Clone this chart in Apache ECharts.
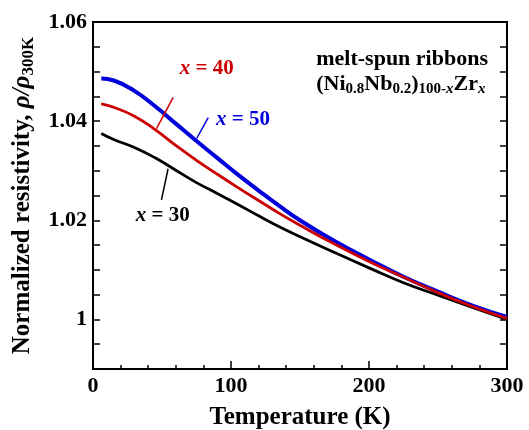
<!DOCTYPE html>
<html>
<head>
<meta charset="utf-8">
<script src="https://cdn.jsdelivr.net/npm/echarts@6/dist/echarts.min.js"></script>
<style>
  html, body { margin: 0; padding: 0; background: #fff; }
  #main { width: 529px; height: 430px; }
</style>
</head>
<body>
<div id="main"></div>
<script>
// temperature (K) shared by all three curves
const temps = [6, 15, 30, 45, 60, 75, 90, 105, 120, 135, 150, 175, 200, 225, 250, 275, 300];
// normalized resistivity rho/rho300K
const rhoX30 = [1.0375, 1.0363, 1.0347, 1.0326, 1.0301, 1.0276, 1.0254, 1.0232, 1.0209, 1.0187, 1.0167, 1.0135, 1.0104, 1.0074, 1.0049, 1.0024, 1.0000];
const rhoX40 = [1.0435, 1.0428, 1.0410, 1.0383, 1.0351, 1.0321, 1.0293, 1.0266, 1.0240, 1.0214, 1.0190, 1.0152, 1.0117, 1.0085, 1.0054, 1.0026, 1.0002];
const rhoX50 = [1.0486, 1.0482, 1.0461, 1.0430, 1.0395, 1.0360, 1.0326, 1.0292, 1.0260, 1.0229, 1.0200, 1.0158, 1.0121, 1.0086, 1.0056, 1.0028, 1.0005];

// labels and their leader lines, in data coords [T, rho]
const labelX30 = [50.6, 1.0210];
const labelX40 = [82.5, 1.0507];
const labelX50 = [108.7, 1.0404];
const leaderX30 = [[54.4, 1.0304], [49.6, 1.0241]];
const leaderX40 = [[58.1, 1.0448], [46.0, 1.0385]];
const leaderX50 = [[83.5, 1.0407], [75.1, 1.0365]];

const xTickLabels = [0, 100, 200, 300];
const yTickLabels = [1, 1.02, 1.04, 1.06];

const serif = 'Liberation Serif';

function pairs(xs, ys) {
    return xs.map((x, i) => [x, ys[i]]);
}

function curve(name, values, color, width, label, leader) {
    return {
        name: name,
        type: 'line',
        data: pairs(temps, values),
        showSymbol: false,
        smooth: 0.5,
        lineStyle: { color: color, width: width },
        z: width > 3 ? 3 : 4,
        markLine: {
            silent: true,
            symbol: 'none',
            label: { show: false },
            lineStyle: { color: color, width: 1.5, type: 'solid' },
            data: [[{ coord: leader[0] }, { coord: leader[1] }]]
        },
        markPoint: {
            silent: true,
            symbolSize: 0,
            data: [{ coord: label }],
            label: {
                show: true,
                position: 'inside',
                formatter: '{i|x} = ' + name,
                color: color,
                fontFamily: serif,
                fontWeight: 'bold',
                fontSize: 21,
                rich: {
                    i: { fontFamily: serif, fontStyle: 'italic', fontWeight: 'bold', fontSize: 21, color: color }
                }
            }
        }
    };
}

const chart = echarts.init(document.getElementById('main'));

const option = {
    backgroundColor: '#fff',
    animation: false,
    title: {
        right: 36,
        top: 42,
        text: 'melt-spun ribbons\n(Ni{s|0.8}Nb{s|0.2}){s|100-}{si|x}Zr{si|x}',
        textStyle: {
            fontFamily: serif,
            fontWeight: 'bold',
            fontSize: 22,
            color: '#000',
            lineHeight: 25,
            rich: {
                s: { fontFamily: serif, fontWeight: 'bold', fontSize: 15, lineHeight: 12, verticalAlign: 'bottom', color: '#000' },
                si: { fontFamily: serif, fontWeight: 'bold', fontStyle: 'italic', fontSize: 15, lineHeight: 12, verticalAlign: 'bottom', color: '#000' }
            }
        }
    },
    grid: {
        left: 93,
        right: 22,
        top: 22,
        bottom: 61,
        containLabel: false,
        outerBoundsMode: 'none',
        show: true,
        borderColor: '#000',
        borderWidth: 2
    },
    xAxis: [{
        type: 'value',
        position: 'bottom',
        min: 0,
        max: 300,
        interval: 100,
        name: 'Temperature (K)',
        nameLocation: 'middle',
        nameGap: 36,
        nameTextStyle: { fontFamily: serif, fontWeight: 'bold', fontSize: 25, color: '#000' },
        axisLine: { lineStyle: { color: '#000', width: 2 } },
        axisTick: { inside: true, length: 8, lineStyle: { color: '#000', width: 1.5 } },
        minorTick: { show: true, splitNumber: 5, length: 4, lineStyle: { color: '#000', width: 1.5 } },
        splitLine: { show: false },
        axisLabel: {
            margin: 6,
            fontFamily: serif, fontWeight: 'bold', fontSize: 22, color: '#000',
            formatter: v => xTickLabels.includes(v) ? String(v) : ''
        }
    }],
    yAxis: [{
        type: 'value',
        position: 'left',
        min: 0.99,
        max: 1.06,
        interval: 0.005,
        name: 'Normalized resistivity, {r|ρ/ρ}{s|300K}',
        nameLocation: 'middle',
        nameRotate: 90,
        nameGap: 49,
        nameTextStyle: {
            fontFamily: serif, fontWeight: 'bold', fontSize: 25, color: '#000', lineHeight: 30,
            rich: {
                r: { fontFamily: serif, fontStyle: 'italic', fontSize: 25, lineHeight: 30, color: '#000' },
                s: { fontFamily: serif, fontSize: 17, lineHeight: 16, verticalAlign: 'bottom', color: '#000' }
            }
        },
        axisLine: { lineStyle: { color: '#000', width: 2 } },
        axisTick: { inside: true, length: 7, lineStyle: { color: '#000', width: 1.5 } },
        splitLine: { show: false },
        axisLabel: {
            margin: 6,
            fontFamily: serif, fontWeight: 'bold', fontSize: 22, color: '#000',
            formatter: function (v) {
                const k = Math.round(v * 1000);
                const hit = yTickLabels.find(t => Math.round(t * 1000) === k);
                if (hit === undefined) return '';
                return hit === 1 ? '1' : hit.toFixed(2);
            }
        }
    }, {
        type: 'value',
        position: 'right',
        min: 0.99,
        max: 1.06,
        interval: 0.005,
        axisLine: { show: true, lineStyle: { color: '#000', width: 2 } },
        axisTick: { show: true, inside: true, length: 7, lineStyle: { color: '#000', width: 1.5 } },
        splitLine: { show: false },
        axisLabel: { show: false }
    }],
    series: [
        curve('30', rhoX30, '#000000', 2.8, labelX30, leaderX30),
        curve('40', rhoX40, '#cc0000', 2.8, labelX40, leaderX40),
        curve('50', rhoX50, '#0000dd', 4, labelX50, leaderX50)
    ]
};

chart.setOption(option);
</script>
</body>
</html>
